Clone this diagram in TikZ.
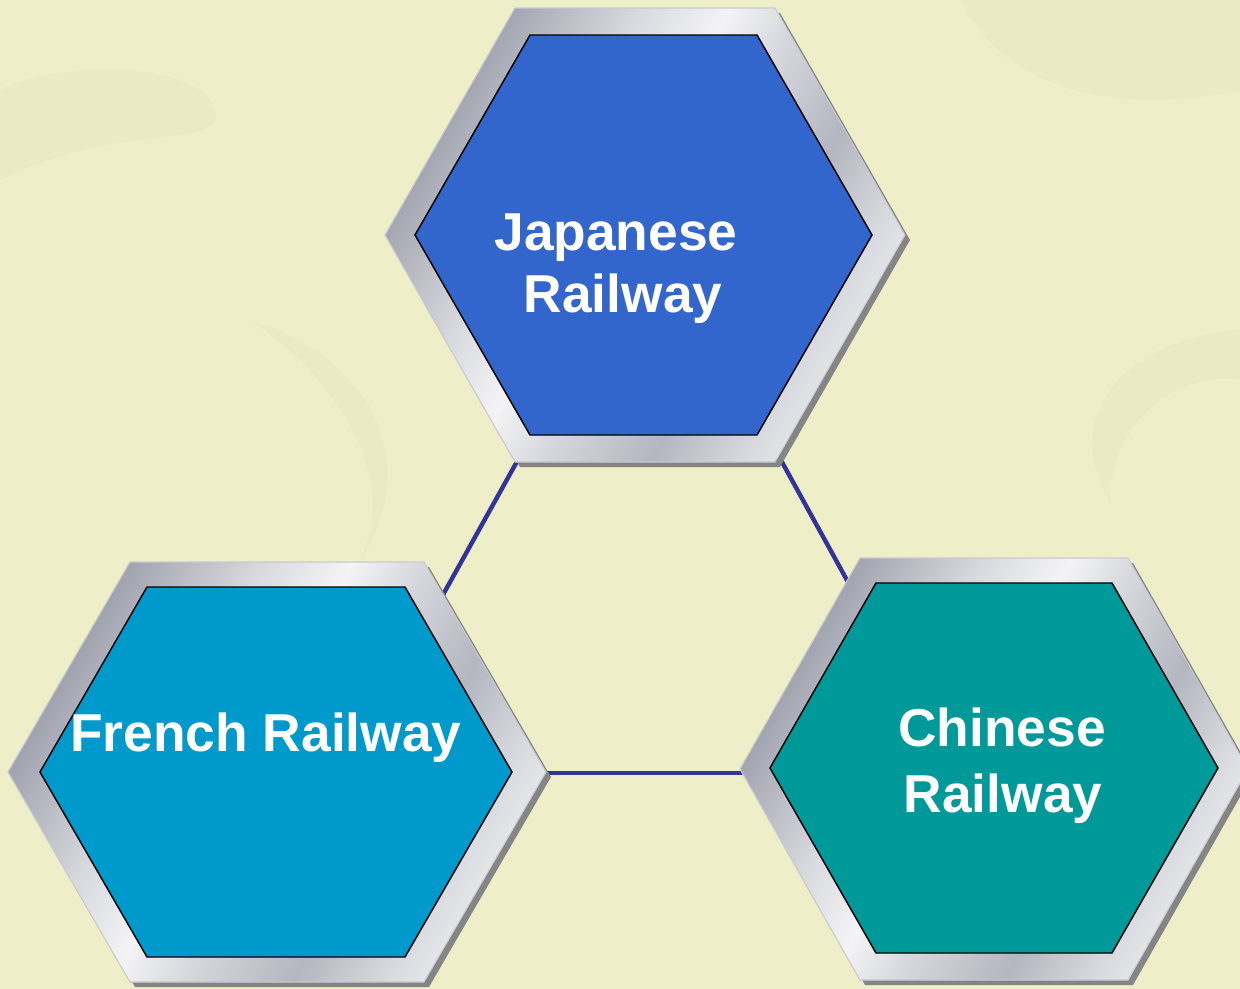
\documentclass[tikz,border=0pt]{standalone}
\usepackage{fontspec}
\setmainfont{Liberation Sans}
\definecolor{bgc}{HTML}{EEEEC8}
\definecolor{linec}{HTML}{333399}
\definecolor{jpc}{HTML}{3366CC}
\definecolor{frc}{HTML}{0099CC}
\definecolor{cnc}{HTML}{009999}
\definecolor{shadowc}{HTML}{858585}
\definecolor{mA}{HTML}{9A9CA9}
\definecolor{mB}{HTML}{D8D9DE}
\definecolor{mC}{HTML}{F4F4F6}
\definecolor{mD}{HTML}{B4B6C0}
\definecolor{edgec}{HTML}{C9CAD0}
\pgfdeclarehorizontalshading{metal}{100bp}{color(0bp)=(mA); color(25bp)=(mA); color(38bp)=(mB); color(46bp)=(mC); color(52bp)=(mB); color(62bp)=(mD); color(70bp)=(mB); color(78bp)=(mC); color(86bp)=(mD); color(100bp)=(mA)}
\tikzset{
  shadowhex/.style={fill=shadowc, draw=none},
  framehex/.style={shading=metal, shading angle=-30, draw=edgec, line width=0.8pt},
  innerhex/.style={draw=black, line width=1.1pt, line join=miter},
  lbl/.style={text=white, font=\bfseries\fontsize{40}{46}\selectfont, anchor=base, inner sep=0pt},
  link/.style={draw=linec, line width=3.3pt}
}
\begin{document}
\begin{tikzpicture}[x=0.75pt,y=-0.75pt]
\fill[bgc] (0,0) rectangle (1240,989);
\useasboundingbox (0,0) rectangle (1240,989);
% faint background swirls
\begin{scope}[draw=none, fill=black!25!bgc, opacity=0.06]
\fill (0,180) .. controls (120,120) and (230,150) .. (215,110) .. controls (200,60) and (60,60) .. (0,90) -- cycle;
\fill (960,0) .. controls (1000,80) and (1100,120) .. (1240,90) -- (1240,0) -- cycle;
\fill (250,320) .. controls (340,380) and (400,480) .. (360,560) .. controls (420,470) and (380,360) .. (250,320) -- cycle;
\fill (1240,330) .. controls (1120,340) and (1060,420) .. (1110,500) .. controls (1110,420) and (1180,370) .. (1240,380) -- cycle;
\end{scope}
% connector anchor points
\coordinate (cT) at (650,222);
\coordinate (cL) at (344,773);
\coordinate (cR) at (953,773);
\draw[link] (cT) -- (cL);
\draw[link] (cT) -- (cR);
\draw[link] (cL) -- (cR);
% top hexagon
\fill[shadowhex] (390,240) -- (520,13) -- (780,13) -- (910,240) -- (780,467) -- (520,467) -- cycle;
\path[framehex] (385,235) -- (515,8) -- (775,8) -- (905,235) -- (775,462) -- (515,462) -- cycle;
\path[innerhex, fill=jpc] (415,235) -- (530,35) -- (757,35) -- (872,235) -- (757,435) -- (530,435) -- cycle;
\node[lbl] (jp1) at (616,250) {Japanese};
\node[lbl] (jp2) at (623,312) {Railway};
% left hexagon
\fill[shadowhex] (13,777) -- (135,567) -- (429,567) -- (551,777) -- (429,987) -- (135,987) -- cycle;
\path[framehex] (8,772) -- (130,562) -- (424,562) -- (546,772) -- (424,982) -- (130,982) -- cycle;
\path[innerhex, fill=frc] (40,772) -- (147,587) -- (405,587) -- (512,772) -- (405,957) -- (147,957) -- cycle;
\node[lbl] (fr1) at (266,751) {French Railway};
% right hexagon
\fill[shadowhex] (745,774) -- (865,563) -- (1133,563) -- (1253,774) -- (1133,985) -- (865,985) -- cycle;
\path[framehex] (740,769) -- (860,558) -- (1128,558) -- (1248,769) -- (1128,980) -- (860,980) -- cycle;
\path[innerhex, fill=cnc] (770,768) -- (876,583) -- (1112,583) -- (1218,768) -- (1112,953) -- (876,953) -- cycle;
\node[lbl] (cn1) at (1002,746) {Chinese};
\node[lbl] (cn2) at (1003,812) {Railway};
\end{tikzpicture}
\end{document}
